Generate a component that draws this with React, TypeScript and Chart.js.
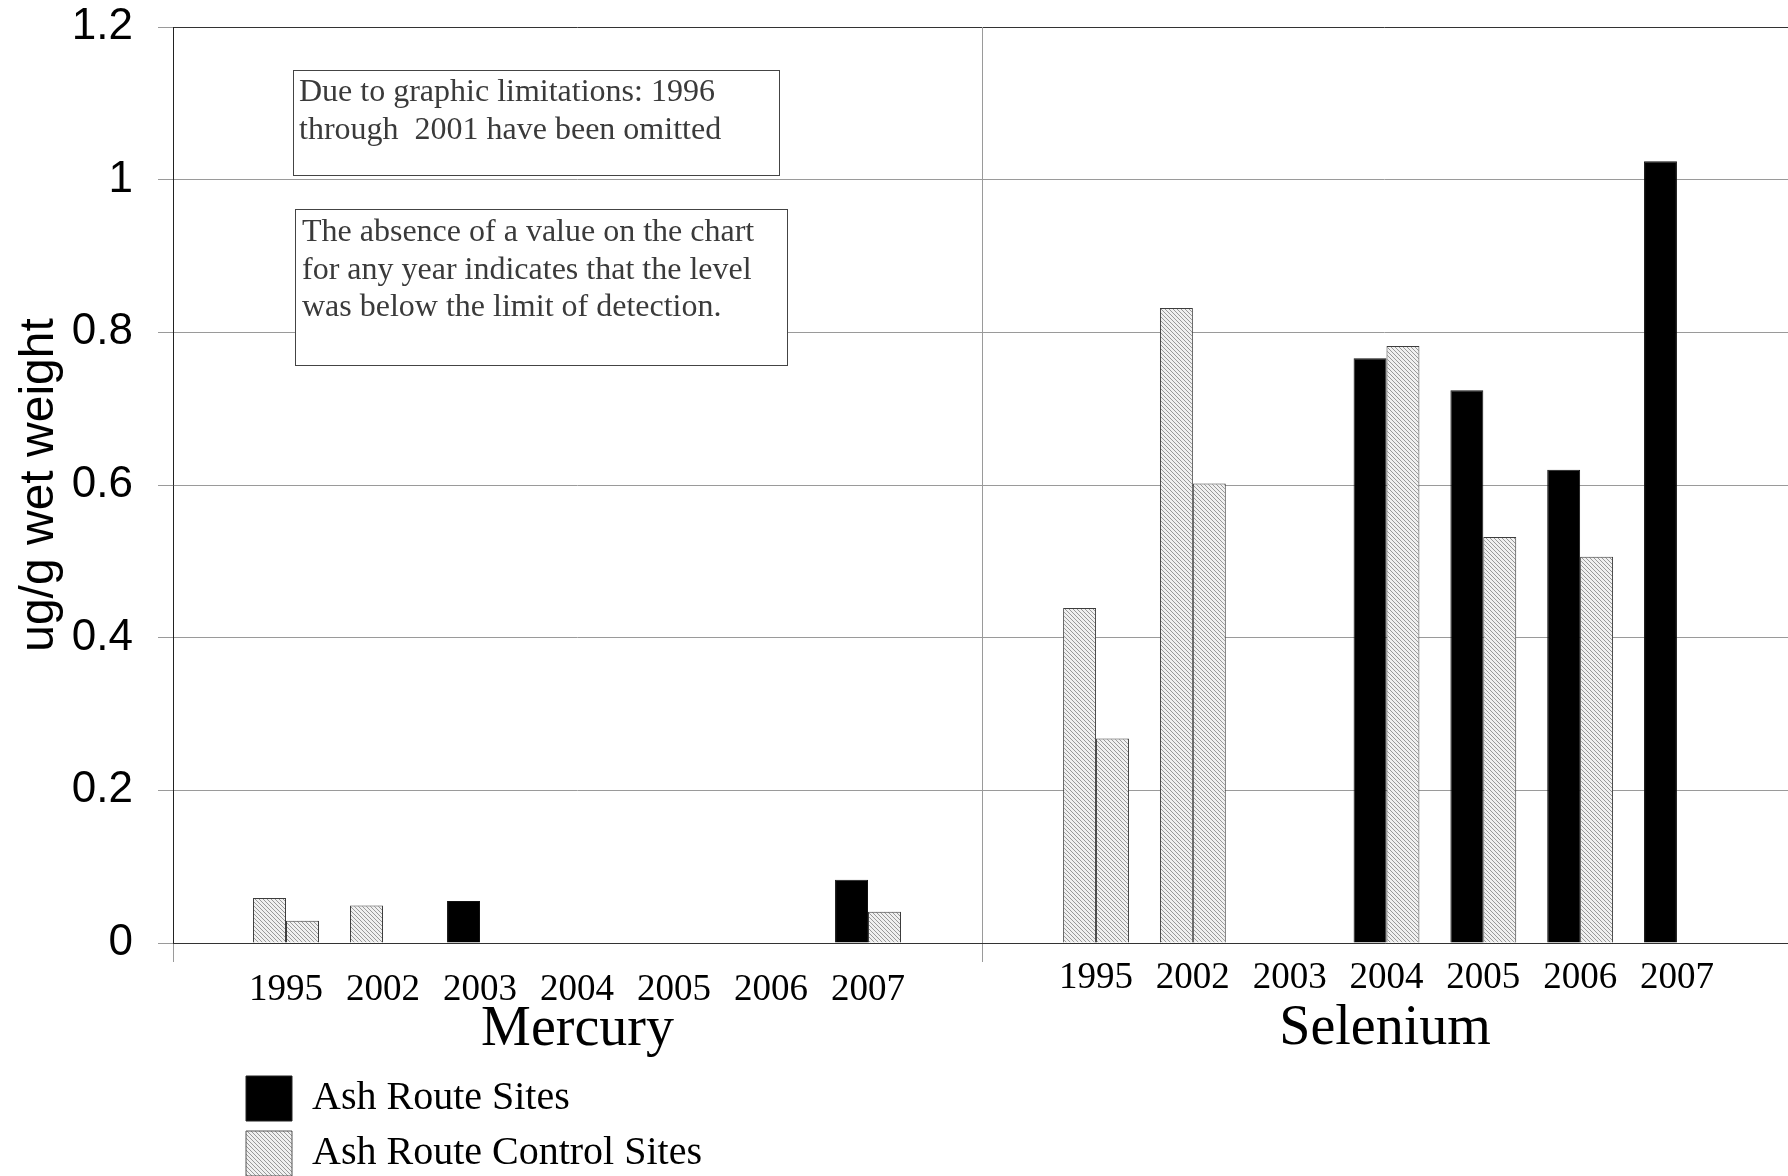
import React, { useEffect, useRef } from 'react';
import { Chart, BarController, registerables } from 'chart.js';

Chart.register(...registerables);

// ---------- data ----------
const years = ['1995', '2002', '2003', '2004', '2005', '2006', '2007'];

// first (left) bar of each year group, and which kind of site it represents
const mercuryFirstBar = [0.059, 0.049, 0.055, null, null, null, 0.083];
const mercuryFirstBarSite = ['control', 'control', 'ash', 'ash', 'ash', 'ash', 'ash'];
// second (right) bar of each year group (control sites)
const mercurySecondBar = [0.029, null, null, null, null, null, 0.041];

const seleniumFirstBar = [0.439, 0.832, null, 0.766, 0.724, 0.62, 1.024];
const seleniumFirstBarSite = ['control', 'control', 'ash', 'ash', 'ash', 'ash', 'ash'];
const seleniumSecondBar = [0.268, 0.602, null, 0.782, 0.532, 0.506, null];

const legendLabels = ['Ash Route Sites', 'Ash Route Control Sites'];
const panelTitles = ['Mercury', 'Selenium'];
const yAxisTitle = 'ug/g wet weight';
const yMin = 0;
const yMax = 1.2;
const yStep = 0.2;

const noteLines1 = ['Due to graphic limitations: 1996', 'through  2001 have been omitted'];
const noteLines2 = [
  'The absence of a value on the chart',
  'for any year indicates that the level',
  'was below the limit of detection.',
];

// ---------- layout constants ----------
const X1_MIN = -1.165;
const X1_MAX = 7.175;
const X2_MIN = -1.178;
const X2_MAX = 7.147;

const SERIF = '"Liberation Serif", "Times New Roman", serif';
const SANS = '"Liberation Sans", Arial, sans-serif';

// Bar controller that groups bars only among datasets sharing the same x axis (panel)
class PanelBarController extends (BarController as any) {
  _calculateBarIndexPixels(index: number, ruler: any) {
    const opts: any = (this as any).options;
    const meta: any = (this as any)._cachedMeta;
    const chart: any = (this as any).chart;
    const peers = chart.getSortedVisibleDatasetMetas().filter((m: any) => m.iScale === meta.iScale);
    const count = Math.max(peers.length, 1);
    const idx = Math.max(peers.indexOf(meta), 0);
    const groupSize = ruler.min * opts.categoryPercentage;
    const chunk = groupSize / count;
    const start = ruler.pixels[index] - groupSize / 2;
    const center = start + chunk * idx + chunk / 2;
    const size = chunk * opts.barPercentage;
    return { base: center - size / 2, head: center + size / 2, center, size };
  }
}
(PanelBarController as any).id = 'panelBar';
(PanelBarController as any).defaults = (BarController as any).defaults;
(PanelBarController as any).overrides = (BarController as any).overrides;
Chart.register(PanelBarController as any);

function makeHatch(): any {
  const c = document.createElement('canvas');
  c.width = 4;
  c.height = 4;
  const g = c.getContext('2d');
  if (!g) return '#d8d8d8';
  g.fillStyle = '#f0f0f0';
  g.fillRect(0, 0, 4, 4);
  g.fillStyle = '#999999';
  for (let i = 0; i < 4; i++) g.fillRect(i, i, 1, 1);
  const p = g.createPattern(c, 'repeat');
  return p || '#d8d8d8';
}

export default function App() {
  const ref = useRef<HTMLCanvasElement>(null);

  useEffect(() => {
    const canvas = ref.current;
    if (!canvas) return;
    const hatch = makeHatch();
    const siteFill = (site: string) => (site === 'ash' ? '#000000' : hatch);
    const toPoints = (vals: (number | null)[]) =>
      vals.map((v, i) => ({ x: i, y: v })).filter((p) => p.y !== null);
    const firstBarFill = (sites: string[]) => (ctx: any) => {
      const raw = ctx && ctx.raw;
      if (!raw) return '#000000';
      return siteFill(sites[raw.x]);
    };
    const firstBarBorder = (sites: string[]) => (ctx: any) => {
      const raw = ctx && ctx.raw;
      if (!raw) return '#222';
      return sites[raw.x] === 'ash' ? '#111' : '#3c3c3c';
    };

    const notes = [
      { x: 293, y: 70, w: 486, h: 105, tx: 6, ty: 31, lines: noteLines1 },
      { x: 295, y: 209, w: 492, h: 156, tx: 7, ty: 32, lines: noteLines2 },
    ];

    const notesPlugin = {
      id: 'notes',
      afterDraw(chart: any) {
        const ctx = chart.ctx;
        ctx.save();
        for (const n of notes) {
          ctx.fillStyle = '#ffffff';
          ctx.fillRect(n.x, n.y, n.w, n.h);
          ctx.strokeStyle = '#444';
          ctx.lineWidth = 1;
          ctx.strokeRect(n.x + 0.5, n.y + 0.5, n.w, n.h);
          ctx.fillStyle = '#3a3a3a';
          ctx.font = `32px ${SERIF}`;
          ctx.textAlign = 'left';
          ctx.textBaseline = 'alphabetic';
          n.lines.forEach((line, i) => ctx.fillText(line, n.x + n.tx, n.y + n.ty + i * 37.5));
        }
        ctx.restore();
      },
    };

    const legendPlacer = {
      id: 'legendPlacer',
      afterLayout(chart: any) {
        const lg = chart.legend;
        if (!lg) return;
        const left = 236;
        const top = 1066;
        lg.left = left;
        lg.top = top;
        lg.width = 800;
        lg.height = 220;
        lg.right = left + 800;
        lg.bottom = top + 220;
      },
    };

    const isEdge = (v: number, a: number, b: number) => Math.abs(v - a) < 1e-6 || Math.abs(v - b) < 1e-6;
    const barOpts = { categoryPercentage: 0.68, barPercentage: 1.0, borderWidth: 1 };

    const chart = new Chart(canvas, {
      type: 'panelBar' as any,
      data: {
        datasets: [
          {
            label: legendLabels[0],
            data: toPoints(mercuryFirstBar) as any,
            xAxisID: 'x1',
            yAxisID: 'y',
            backgroundColor: firstBarFill(mercuryFirstBarSite),
            borderColor: firstBarBorder(mercuryFirstBarSite),
            ...barOpts,
          },
          {
            label: legendLabels[1],
            data: toPoints(mercurySecondBar) as any,
            xAxisID: 'x1',
            yAxisID: 'y',
            backgroundColor: hatch,
            borderColor: '#3c3c3c',
            ...barOpts,
          },
          {
            label: legendLabels[0],
            data: toPoints(seleniumFirstBar) as any,
            xAxisID: 'x2',
            yAxisID: 'y',
            backgroundColor: firstBarFill(seleniumFirstBarSite),
            borderColor: firstBarBorder(seleniumFirstBarSite),
            ...barOpts,
          },
          {
            label: legendLabels[1],
            data: toPoints(seleniumSecondBar) as any,
            xAxisID: 'x2',
            yAxisID: 'y',
            backgroundColor: hatch,
            borderColor: '#3c3c3c',
            ...barOpts,
          },
        ],
      },
      options: {
        responsive: false,
        animation: false,
        devicePixelRatio: 1,
        events: [],
        indexAxis: 'x',
        layout: { padding: { top: 27, left: 0, right: 0, bottom: 108 } },
        scales: {
          y: {
            type: 'linear',
            position: 'left',
            stacked: false,
            offset: false,
            min: yMin,
            max: yMax,
            afterFit: (s: any) => {
              s.width = 173;
              s.paddingTop = 0;
              s.paddingBottom = 0;
            },
            ticks: {
              stepSize: yStep,
              padding: 25,
              color: '#000',
              font: { family: SANS, size: 44, lineHeight: 1.2 },
              callback: (v: any) => String(parseFloat(Number(v).toFixed(2))),
            },
            grid: {
              offset: false,
              color: (c: any) => (c.tick && Math.abs(c.tick.value - yMax) < 1e-6 ? '#333' : '#9a9a9a'),
              tickColor: '#9a9a9a',
              tickLength: 15,
              lineWidth: 1,
            },
            border: { display: true, color: '#222', width: 1 },
            title: {
              display: true,
              text: yAxisTitle,
              color: '#000',
              font: { family: SANS, size: 48, lineHeight: 1 },
              padding: { top: 16, bottom: 0 },
            },
          },
          x1: {
            type: 'linear',
            axis: 'x',
            position: 'bottom',
            stack: 'panels',
            stackWeight: 809,
            offset: false,
            bounds: 'data',
            min: X1_MIN,
            max: X1_MAX,
            afterBuildTicks: (s: any) => {
              s.ticks = [X1_MIN, 0, 1, 2, 3, 4, 5, 6, X1_MAX].map((v) => ({ value: v }));
            },
            afterFit: (s: any) => {
              s.height = 125;
              s.paddingLeft = 0;
              s.paddingRight = 0;
            },
            ticks: {
              autoSkip: false,
              maxRotation: 0,
              minRotation: 0,
              padding: 10,
              color: '#000',
              font: { family: SERIF, size: 37, lineHeight: 1 },
              callback: (v: any) => (Number.isInteger(v) ? years[v] : ''),
            },
            grid: {
              offset: false,
              drawOnChartArea: true,
              drawTicks: true,
              tickLength: 19,
              lineWidth: 1,
              color: (c: any) => (c.tick && isEdge(c.tick.value, X1_MIN, X1_MAX) ? '#9a9a9a' : 'rgba(0,0,0,0)'),
              tickColor: (c: any) => (c.tick && isEdge(c.tick.value, X1_MIN, X1_MAX) ? '#9a9a9a' : 'rgba(0,0,0,0)'),
            },
            border: { display: true, color: '#333', width: 1 },
            title: {
              display: true,
              text: panelTitles[0],
              color: '#000',
              font: { family: SERIF, size: 56, lineHeight: 1 },
              padding: { top: 0, bottom: 10 },
            },
          },
          x2: {
            type: 'linear',
            axis: 'x',
            position: 'bottom',
            stack: 'panels',
            stackWeight: 806,
            offset: false,
            bounds: 'data',
            min: X2_MIN,
            max: X2_MAX,
            afterBuildTicks: (s: any) => {
              s.ticks = [0, 1, 2, 3, 4, 5, 6].map((v) => ({ value: v }));
            },
            afterFit: (s: any) => {
              s.height = 125;
              s.paddingLeft = 0;
              s.paddingRight = 0;
            },
            ticks: {
              autoSkip: false,
              maxRotation: 0,
              minRotation: 0,
              padding: 17,
              color: '#000',
              font: { family: SERIF, size: 37, lineHeight: 1 },
              callback: (v: any) => (Number.isInteger(v) ? years[v] : ''),
            },
            grid: {
              display: false,
              offset: false,
              drawOnChartArea: false,
              drawTicks: false,
              tickLength: 0,
            },
            border: { display: true, color: '#333', width: 1 },
            title: {
              display: true,
              text: panelTitles[1],
              color: '#000',
              font: { family: SERIF, size: 56, lineHeight: 1 },
              padding: { top: 0, bottom: 11 },
            },
          },
        },
        plugins: {
          tooltip: { enabled: false },
          legend: {
            display: true,
            position: 'chartArea' as any,
            align: 'start',
            labels: {
              color: '#000',
              font: { family: SERIF, size: 40 },
              boxWidth: 46,
              boxHeight: 45,
              padding: 10,
              generateLabels: () => [
                {
                  text: legendLabels[0],
                  fillStyle: '#000000',
                  strokeStyle: '#222',
                  lineWidth: 1,
                  hidden: false,
                  datasetIndex: 0,
                },
                {
                  text: legendLabels[1],
                  fillStyle: hatch,
                  strokeStyle: '#555',
                  lineWidth: 1,
                  hidden: false,
                  datasetIndex: 1,
                },
              ],
            },
          },
        },
      } as any,
      plugins: [notesPlugin, legendPlacer],
    });

    return () => chart.destroy();
  }, []);

  return (
    <div
      style={{
        position: 'fixed',
        left: 0,
        top: 0,
        width: 1788,
        height: 1176,
        overflow: 'hidden',
        background: '#ffffff',
      }}
    >
      <canvas ref={ref} width={1788} height={1176} style={{ display: 'block' }} />
    </div>
  );
}
